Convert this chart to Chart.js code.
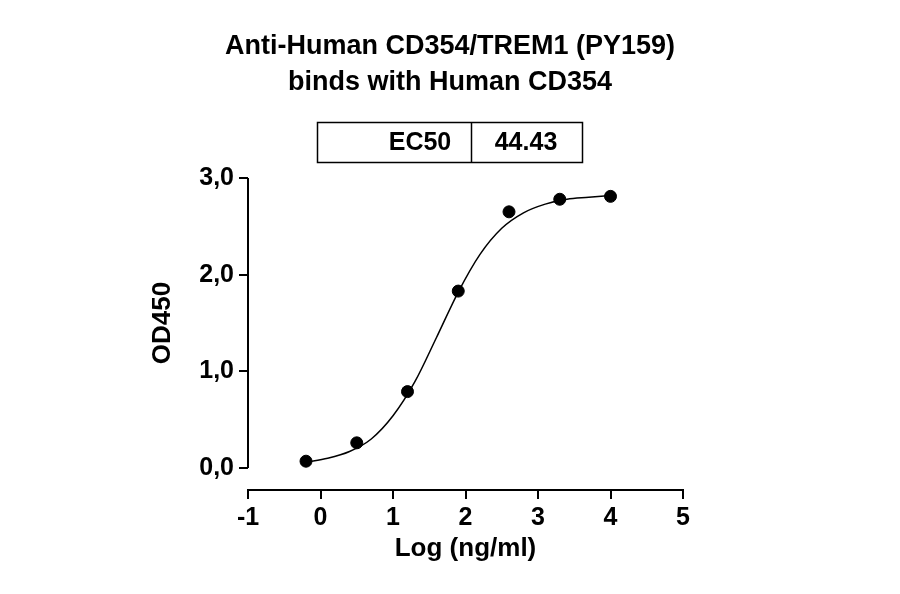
<!DOCTYPE html>
<html>
<head>
<meta charset="utf-8">
<script src="https://cdn.jsdelivr.net/npm/chart.js@4"></script>
<style>
  html, body { margin: 0; padding: 0; background: #fff; }
  #wrap { width: 900px; height: 594px; position: relative; }
</style>
</head>
<body>
<div id="wrap"><canvas id="c" width="900" height="594"></canvas></div>
<script>
// measured points (log concentration vs OD450)
const doseLog = [-0.2, 0.5, 1.2, 1.9, 2.6, 3.3, 4.0];
const od450 = [0.07, 0.26, 0.79, 1.83, 2.65, 2.78, 2.81];

// fitted curve
const fitLog = [-0.2, 0.1, 0.4, 0.7, 1.0, 1.3, 1.6, 1.9, 2.2, 2.5, 2.8, 3.1, 3.4, 3.7, 4.0];
const fitOd = [0.06, 0.10, 0.17, 0.30, 0.54, 0.89, 1.35, 1.82, 2.21, 2.48, 2.64, 2.73, 2.78, 2.80, 2.82];

const titleLines = ['Anti-Human CD354/TREM1 (PY159)', 'binds with Human CD354'];
const ec50Label = 'EC50';
const ec50Value = '44.43';
const yTicks = [0, 1, 2, 3];

const FONT = '"Liberation Sans", Arial, sans-serif';

const overlay = {
  id: 'overlay',
  afterDraw(chart) {
    const { ctx, scales: { x, y } } = chart;
    ctx.save();
    ctx.fillStyle = '#000';
    ctx.strokeStyle = '#000';
    ctx.textAlign = 'center';
    ctx.textBaseline = 'middle';
    ctx.font = `bold 27px ${FONT}`;
    ctx.fillText(titleLines[0], 450, 47);
    ctx.fillText(titleLines[1], 450, 83);

    // EC50 table
    ctx.lineWidth = 1.5;
    ctx.strokeRect(317.5, 122.5, 265, 40);
    ctx.beginPath();
    ctx.moveTo(471.5, 122.5); ctx.lineTo(471.5, 162.5);
    ctx.stroke();
    ctx.font = `bold 25px ${FONT}`;
    ctx.fillText(ec50Label, 420, 143);
    ctx.fillText(ec50Value, 526, 143);

    // y axis line only over data range
    ctx.lineWidth = 2;
    ctx.beginPath();
    ctx.moveTo(x.left, y.getPixelForValue(0));
    ctx.lineTo(x.left, y.getPixelForValue(3));
    ctx.stroke();

    // axis titles
    ctx.font = `bold 26px ${FONT}`;
    ctx.fillText('Log (ng/ml)', (x.left + x.right) / 2, 549);
    ctx.translate(163, y.getPixelForValue(1.5));
    ctx.rotate(-Math.PI / 2);
    ctx.fillText('OD450', 0, 0);
    ctx.restore();
  }
};

new Chart(document.getElementById('c'), {
  type: 'scatter',
  data: {
    datasets: [
      {
        data: doseLog.map((v, i) => ({ x: v, y: od450[i] })),
        pointRadius: 6,
        pointBackgroundColor: '#000',
        pointBorderColor: '#000',
        showLine: false,
      },
      {
        data: fitLog.map((v, i) => ({ x: v, y: fitOd[i] })),
        showLine: true,
        borderColor: '#000',
        borderWidth: 1.5,
        pointRadius: 0,
        tension: 0.4,
        cubicInterpolationMode: 'monotone',
      },
    ],
  },
  options: {
    responsive: false,
    animation: false,
    layout: { padding: { top: 178, right: 217, left: 0, bottom: 0 } },
    plugins: { legend: { display: false }, tooltip: { enabled: false } },
    scales: {
      x: {
        type: 'linear',
        min: -1, max: 5,
        ticks: { stepSize: 1, color: '#000', font: { family: FONT, size: 25, weight: 'bold' }, padding: 4 },
        grid: { drawOnChartArea: false, drawTicks: true, tickLength: 9, color: '#000', lineWidth: 2 },
        border: { display: true, color: '#000', width: 2 },
        afterFit: (s) => { s.height = 104; },
      },
      y: {
        min: -0.228, max: 3,
        afterBuildTicks: (s) => { s.ticks = yTicks.map(v => ({ value: v })); },
        ticks: {
          color: '#000', font: { family: FONT, size: 25, weight: 'bold' }, padding: 5,
          callback: (v) => v.toFixed(1).replace('.', ','),
        },
        grid: { drawOnChartArea: false, drawTicks: true, tickLength: 9, color: '#000', lineWidth: 2 },
        border: { display: false },
        afterFit: (s) => { s.width = 248; },
      },
    },
  },
  plugins: [overlay],
});
</script>
</body>
</html>
